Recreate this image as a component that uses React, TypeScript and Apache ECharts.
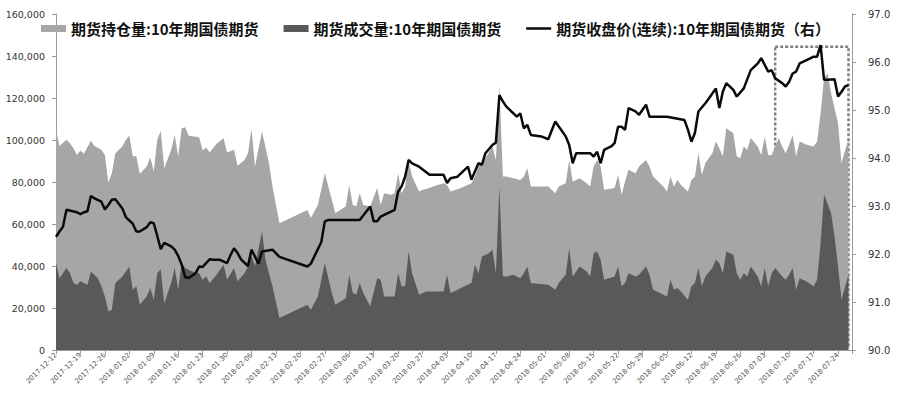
import React, { useEffect, useRef } from "react";
import * as echarts from "echarts";

const BASE_DATE = "2017-12-12";
const LAST_AXIS_DATE = "2018-07-28";

const seriesNames = [
  "期货持仓量:10年期国债期货",
  "期货成交量:10年期国债期货",
  "期货收盘价(连续):10年期国债期货（右）",
];

// 期货持仓量 (lots)
const openInterest: [string, number][] = [
  ["2017-12-12", 104800], ["2017-12-13", 97200], ["2017-12-15", 100100], ["2017-12-16", 98500],
  ["2017-12-17", 96100], ["2017-12-18", 92900], ["2017-12-19", 95000], ["2017-12-20", 93400],
  ["2017-12-22", 99700], ["2017-12-23", 97200], ["2017-12-25", 95300], ["2017-12-26", 92900],
  ["2017-12-27", 79800], ["2017-12-28", 84200], ["2017-12-29", 93700], ["2017-12-31", 96900],
  ["2018-01-01", 100100], ["2018-01-02", 102000], ["2018-01-03", 92100], ["2018-01-04", 92400],
  ["2018-01-05", 83900], ["2018-01-07", 87400], ["2018-01-08", 91800], ["2018-01-09", 85000],
  ["2018-01-10", 100100], ["2018-01-11", 104300], ["2018-01-12", 86600], ["2018-01-14", 95300],
  ["2018-01-15", 102400], ["2018-01-16", 92100], ["2018-01-17", 105600], ["2018-01-18", 106100],
  ["2018-01-19", 102000], ["2018-01-22", 101300], ["2018-01-23", 95000], ["2018-01-24", 96400],
  ["2018-01-25", 94000], ["2018-01-27", 98200], ["2018-01-29", 100800], ["2018-01-30", 94000],
  ["2018-02-01", 95300], ["2018-02-02", 87700], ["2018-02-04", 90500], ["2018-02-05", 93700],
  ["2018-02-06", 105100], ["2018-02-07", 87400], ["2018-02-09", 104000], ["2018-02-11", 89000],
  ["2018-02-12", 77900], ["2018-02-14", 60400], ["2018-02-22", 66700], ["2018-02-23", 62800],
  ["2018-02-25", 69100], ["2018-02-27", 84200], ["2018-03-01", 71500], ["2018-03-02", 65200],
  ["2018-03-05", 68300], ["2018-03-06", 78600], ["2018-03-07", 69100], ["2018-03-08", 68300],
  ["2018-03-09", 74700], ["2018-03-10", 69100], ["2018-03-12", 68300], ["2018-03-14", 77100],
  ["2018-03-15", 69100], ["2018-03-16", 74700], ["2018-03-18", 73900], ["2018-03-19", 74700],
  ["2018-03-20", 84200], ["2018-03-21", 74700], ["2018-03-22", 77900], ["2018-03-23", 89700],
  ["2018-03-24", 82600], ["2018-03-26", 75500], ["2018-03-27", 76300], ["2018-03-29", 77100],
  ["2018-03-30", 77900], ["2018-04-02", 79400], ["2018-04-03", 78600], ["2018-04-04", 75500],
  ["2018-04-07", 77100], ["2018-04-10", 79400], ["2018-04-11", 82600], ["2018-04-12", 87400],
  ["2018-04-14", 91300], ["2018-04-16", 96900], ["2018-04-17", 90500], ["2018-04-18", 126200],
  ["2018-04-19", 82600], ["2018-04-20", 82600], ["2018-04-22", 81800], ["2018-04-24", 81000],
  ["2018-04-25", 82600], ["2018-04-26", 86600], ["2018-04-27", 77900], ["2018-05-02", 77900],
  ["2018-05-04", 74700], ["2018-05-05", 77900], ["2018-05-07", 79400], ["2018-05-08", 90500],
  ["2018-05-09", 80200], ["2018-05-11", 81800], ["2018-05-13", 79400], ["2018-05-14", 77900],
  ["2018-05-15", 87400], ["2018-05-16", 90500], ["2018-05-17", 87400], ["2018-05-18", 76300],
  ["2018-05-21", 77100], ["2018-05-22", 83400], ["2018-05-23", 73900], ["2018-05-24", 80200],
  ["2018-05-25", 85800], ["2018-05-27", 84200], ["2018-05-28", 87400], ["2018-05-30", 90500],
  ["2018-05-31", 87400], ["2018-06-01", 82600], ["2018-06-03", 79400], ["2018-06-04", 77900],
  ["2018-06-05", 75500], ["2018-06-06", 82600], ["2018-06-07", 77900], ["2018-06-08", 81000],
  ["2018-06-09", 78600], ["2018-06-11", 75500], ["2018-06-12", 81000], ["2018-06-13", 82600],
  ["2018-06-14", 93700], ["2018-06-15", 83400], ["2018-06-16", 89000], ["2018-06-18", 93700],
  ["2018-06-19", 99300], ["2018-06-20", 96100], ["2018-06-21", 92100], ["2018-06-22", 105600],
  ["2018-06-24", 103200], ["2018-06-25", 92100], ["2018-06-26", 91300], ["2018-06-27", 96900],
  ["2018-06-28", 95300], ["2018-06-29", 100900], ["2018-07-01", 96900], ["2018-07-02", 92900],
  ["2018-07-03", 101600], ["2018-07-04", 92900], ["2018-07-05", 92900], ["2018-07-07", 100900],
  ["2018-07-08", 96900], ["2018-07-09", 93700], ["2018-07-10", 97700], ["2018-07-11", 102400],
  ["2018-07-12", 92100], ["2018-07-13", 99300], ["2018-07-15", 97700], ["2018-07-17", 96900],
  ["2018-07-18", 99300], ["2018-07-19", 112700], ["2018-07-20", 129400], ["2018-07-21", 131800],
  ["2018-07-22", 122300], ["2018-07-23", 115100], ["2018-07-24", 108000], ["2018-07-25", 89000],
  ["2018-07-26", 95000], ["2018-07-27", 100000],
];

// 期货成交量 (lots)
const volume: [string, number][] = [
  ["2017-12-12", 41400], ["2017-12-13", 34200], ["2017-12-15", 39000], ["2017-12-16", 36600],
  ["2017-12-17", 31900], ["2017-12-18", 31100], ["2017-12-19", 32700], ["2017-12-21", 31100],
  ["2017-12-22", 37400], ["2017-12-24", 34200], ["2017-12-25", 30300], ["2017-12-26", 25500],
  ["2017-12-27", 18400], ["2017-12-28", 19200], ["2017-12-29", 31900], ["2017-12-31", 35000],
  ["2018-01-02", 39800], ["2018-01-03", 28700], ["2018-01-04", 30300], ["2018-01-05", 21600],
  ["2018-01-07", 25500], ["2018-01-08", 29500], ["2018-01-09", 23900], ["2018-01-10", 36600],
  ["2018-01-11", 38500], ["2018-01-12", 22300], ["2018-01-14", 31900], ["2018-01-15", 39000],
  ["2018-01-16", 28700], ["2018-01-17", 41400], ["2018-01-18", 39000], ["2018-01-20", 37400],
  ["2018-01-22", 36600], ["2018-01-23", 33400], ["2018-01-24", 35000], ["2018-01-25", 31900],
  ["2018-01-27", 35800], ["2018-01-29", 40600], ["2018-01-30", 33400], ["2018-02-01", 39000],
  ["2018-02-02", 32700], ["2018-02-04", 36600], ["2018-02-05", 39800], ["2018-02-06", 45000],
  ["2018-02-07", 39800], ["2018-02-09", 56400], ["2018-02-10", 43000], ["2018-02-12", 30300],
  ["2018-02-14", 15200], ["2018-02-22", 21600], ["2018-02-23", 19200], ["2018-02-25", 25500],
  ["2018-02-27", 41400], ["2018-03-01", 27100], ["2018-03-02", 21600], ["2018-03-05", 24700],
  ["2018-03-06", 35800], ["2018-03-07", 27100], ["2018-03-08", 26300], ["2018-03-09", 31900],
  ["2018-03-10", 27100], ["2018-03-12", 20800], ["2018-03-14", 34200], ["2018-03-15", 33400],
  ["2018-03-16", 25500], ["2018-03-19", 25500], ["2018-03-20", 36600], ["2018-03-21", 30300],
  ["2018-03-22", 30300], ["2018-03-23", 46900], ["2018-03-24", 36600], ["2018-03-26", 26300],
  ["2018-03-28", 27900], ["2018-04-02", 27900], ["2018-04-03", 35800], ["2018-04-04", 27100],
  ["2018-04-06", 28700], ["2018-04-08", 30300], ["2018-04-10", 31900], ["2018-04-11", 40600],
  ["2018-04-12", 36600], ["2018-04-13", 44500], ["2018-04-15", 46100], ["2018-04-16", 47700],
  ["2018-04-17", 36600], ["2018-04-18", 77900], ["2018-04-19", 35000], ["2018-04-20", 35000],
  ["2018-04-22", 35800], ["2018-04-24", 34200], ["2018-04-25", 36600], ["2018-04-26", 39800],
  ["2018-04-27", 31900], ["2018-05-02", 31100], ["2018-05-04", 28700], ["2018-05-05", 31900],
  ["2018-05-07", 35800], ["2018-05-08", 48500], ["2018-05-09", 35000], ["2018-05-11", 39800],
  ["2018-05-13", 37400], ["2018-05-14", 35000], ["2018-05-15", 46100], ["2018-05-16", 46900],
  ["2018-05-17", 43000], ["2018-05-18", 33400], ["2018-05-21", 35000], ["2018-05-22", 39800],
  ["2018-05-23", 30300], ["2018-05-24", 31900], ["2018-05-25", 36600], ["2018-05-27", 35000],
  ["2018-05-28", 35800], ["2018-05-30", 39800], ["2018-05-31", 35800], ["2018-06-01", 28700],
  ["2018-06-03", 27100], ["2018-06-04", 26300], ["2018-06-05", 25500], ["2018-06-06", 33400],
  ["2018-06-07", 28700], ["2018-06-08", 29500], ["2018-06-09", 27900], ["2018-06-11", 23900],
  ["2018-06-12", 30300], ["2018-06-13", 31900], ["2018-06-14", 39000], ["2018-06-15", 30300],
  ["2018-06-16", 35000], ["2018-06-18", 39000], ["2018-06-19", 43000], ["2018-06-20", 41400],
  ["2018-06-21", 36600], ["2018-06-22", 46900], ["2018-06-24", 45300], ["2018-06-25", 36600],
  ["2018-06-26", 33400], ["2018-06-27", 36600], ["2018-06-28", 35000], ["2018-06-29", 39800],
  ["2018-07-01", 35000], ["2018-07-02", 30300], ["2018-07-03", 39000], ["2018-07-04", 30300],
  ["2018-07-05", 36600], ["2018-07-06", 39000], ["2018-07-08", 35000], ["2018-07-09", 33400],
  ["2018-07-10", 35800], ["2018-07-11", 39000], ["2018-07-12", 28700], ["2018-07-13", 34200],
  ["2018-07-15", 32600], ["2018-07-17", 30300], ["2018-07-18", 33400], ["2018-07-19", 50900],
  ["2018-07-20", 73900], ["2018-07-22", 65200], ["2018-07-23", 54100], ["2018-07-24", 39800],
  ["2018-07-25", 24000], ["2018-07-26", 30000], ["2018-07-27", 36000],
];

// 期货收盘价(连续)
const closePrice: [string, number][] = [
  ["2017-12-12", 92.36], ["2017-12-13", 92.47], ["2017-12-14", 92.57], ["2017-12-15", 92.92],
  ["2017-12-18", 92.87], ["2017-12-19", 92.83], ["2017-12-20", 92.87], ["2017-12-21", 92.89],
  ["2017-12-22", 93.21], ["2017-12-23", 93.16], ["2017-12-25", 93.09], ["2017-12-26", 92.93],
  ["2017-12-27", 93.02], ["2017-12-28", 93.13], ["2017-12-29", 93.14], ["2017-12-31", 92.95],
  ["2018-01-01", 92.77], ["2018-01-03", 92.63], ["2018-01-04", 92.47], ["2018-01-05", 92.47],
  ["2018-01-07", 92.56], ["2018-01-08", 92.66], ["2018-01-09", 92.64], ["2018-01-10", 92.38],
  ["2018-01-11", 92.10], ["2018-01-12", 92.23], ["2018-01-14", 92.16], ["2018-01-15", 92.09],
  ["2018-01-16", 91.96], ["2018-01-17", 91.78], ["2018-01-18", 91.52], ["2018-01-19", 91.50],
  ["2018-01-21", 91.60], ["2018-01-22", 91.74], ["2018-01-23", 91.73], ["2018-01-24", 91.81],
  ["2018-01-25", 91.89], ["2018-01-26", 91.88], ["2018-01-28", 91.88], ["2018-01-30", 91.81],
  ["2018-01-31", 91.98], ["2018-02-01", 92.12], ["2018-02-02", 92.02], ["2018-02-03", 91.89],
  ["2018-02-05", 91.75], ["2018-02-06", 92.09], ["2018-02-08", 91.80], ["2018-02-09", 92.05],
  ["2018-02-12", 92.09], ["2018-02-14", 91.94], ["2018-02-22", 91.74], ["2018-02-23", 91.80],
  ["2018-02-26", 92.25], ["2018-02-27", 92.68], ["2018-02-28", 92.71], ["2018-03-09", 92.71],
  ["2018-03-12", 92.99], ["2018-03-13", 92.68], ["2018-03-14", 92.68], ["2018-03-15", 92.78],
  ["2018-03-19", 92.92], ["2018-03-20", 93.30], ["2018-03-21", 93.41], ["2018-03-22", 93.61],
  ["2018-03-23", 93.96], ["2018-03-24", 93.89], ["2018-03-26", 93.82], ["2018-03-29", 93.65],
  ["2018-04-02", 93.65], ["2018-04-03", 93.48], ["2018-04-04", 93.58], ["2018-04-06", 93.61],
  ["2018-04-09", 93.82], ["2018-04-10", 93.55], ["2018-04-12", 93.89], ["2018-04-13", 93.86],
  ["2018-04-14", 94.10], ["2018-04-16", 94.27], ["2018-04-17", 94.32], ["2018-04-18", 95.31],
  ["2018-04-19", 95.18], ["2018-04-20", 95.07], ["2018-04-23", 94.86], ["2018-04-24", 94.93],
  ["2018-04-25", 94.62], ["2018-04-26", 94.69], ["2018-04-27", 94.48], ["2018-04-30", 94.45],
  ["2018-05-02", 94.39], ["2018-05-04", 94.76], ["2018-05-07", 94.45], ["2018-05-08", 94.27],
  ["2018-05-09", 93.89], ["2018-05-10", 94.10], ["2018-05-14", 94.10], ["2018-05-15", 94.03],
  ["2018-05-16", 94.13], ["2018-05-17", 93.89], ["2018-05-18", 94.17], ["2018-05-20", 94.24],
  ["2018-05-21", 94.31], ["2018-05-22", 94.65], ["2018-05-23", 94.65], ["2018-05-24", 94.59],
  ["2018-05-25", 95.04], ["2018-05-27", 94.97], ["2018-05-28", 94.90], ["2018-05-30", 95.11],
  ["2018-05-31", 94.86], ["2018-06-05", 94.86], ["2018-06-10", 94.79], ["2018-06-11", 94.59],
  ["2018-06-12", 94.34], ["2018-06-13", 94.52], ["2018-06-14", 94.97], ["2018-06-16", 95.14],
  ["2018-06-17", 95.24], ["2018-06-19", 95.45], ["2018-06-20", 95.04], ["2018-06-21", 95.38],
  ["2018-06-22", 95.56], ["2018-06-24", 95.42], ["2018-06-25", 95.28], ["2018-06-27", 95.45],
  ["2018-06-29", 95.83], ["2018-07-01", 95.97], ["2018-07-02", 96.08], ["2018-07-03", 95.94],
  ["2018-07-04", 95.80], ["2018-07-05", 95.83], ["2018-07-06", 95.66], ["2018-07-08", 95.56],
  ["2018-07-09", 95.49], ["2018-07-10", 95.59], ["2018-07-11", 95.76], ["2018-07-12", 95.80],
  ["2018-07-13", 95.97], ["2018-07-15", 96.04], ["2018-07-17", 96.11], ["2018-07-18", 96.11],
  ["2018-07-19", 96.35], ["2018-07-20", 95.63], ["2018-07-21", 95.63], ["2018-07-23", 95.64],
  ["2018-07-24", 95.28], ["2018-07-25", 95.38], ["2018-07-26", 95.49], ["2018-07-27", 95.52],
];

// dotted highlight box (dates on x, price on right axis)
const highlightFrom = "2018-07-06";
const highlightTo = "2018-07-27";
const highlightTop = 96.32;
const highlightBottom = 90.1;

const DAY = 86400000;
const baseMs = Date.parse(BASE_DATE);
const dayOffset = (s: string) => Math.round((Date.parse(s) - baseMs) / DAY);
const toXY = (arr: [string, number][]) => arr.map(([d, v]) => [dayOffset(d), v]);

export default function App() {
  const ref = useRef<HTMLDivElement>(null);

  useEffect(() => {
    document.body.style.margin = "0";
    if (!ref.current) return;
    const chart = echarts.init(ref.current, undefined, { renderer: "svg" });

    const axisGray = "#9a9a9a";
    const option: any = {
      animation: false,
      backgroundColor: "#ffffff",
      grid: { left: 56, right: 48, top: 14, bottom: 49, containLabel: false },
      legend: {
        left: 36,
        top: 16,
        itemWidth: 25,
        itemHeight: 7,
        itemGap: 25,
        symbolKeepAspect: true,
        textStyle: {
          fontSize: 15,
          fontWeight: "bold",
          color: "#111111",
          fontFamily: "Noto Sans CJK SC",
        },
        data: [
          { name: seriesNames[0], icon: "rect" },
          { name: seriesNames[1], icon: "rect" },
          { name: seriesNames[2], icon: "path://M0,0 L25,0 L25,2.5 L0,2.5 Z" },
        ],
      },
      xAxis: {
        type: "value",
        min: 0,
        max: dayOffset(LAST_AXIS_DATE),
        interval: 7,
        axisLine: { show: true, lineStyle: { color: axisGray, width: 1 } },
        axisTick: { show: true, length: 4, lineStyle: { color: axisGray } },
        splitLine: { show: false },
        axisLabel: {
          rotate: 45,
          fontSize: 7,
          margin: 4,
          color: "#555555",
          fontFamily: "DejaVu Sans",
          formatter: (v: number) =>
            v % 7 === 0 ? new Date(baseMs + v * DAY).toISOString().slice(0, 10) : "",
        },
      },
      yAxis: [
        {
          type: "value",
          min: 0,
          max: 160000,
          interval: 20000,
          axisLine: { show: true, lineStyle: { color: axisGray } },
          axisTick: { show: true, length: 4, lineStyle: { color: axisGray } },
          splitLine: { show: false },
          axisLabel: {
            fontSize: 9.5,
            margin: 11,
            color: "#333333",
            fontFamily: "DejaVu Sans",
            formatter: (v: number) => v.toLocaleString("en-US"),
          },
        },
        {
          type: "value",
          position: "right",
          min: 90,
          max: 97,
          interval: 1,
          axisLine: { show: true, lineStyle: { color: axisGray } },
          axisTick: { show: true, length: 4, lineStyle: { color: axisGray } },
          splitLine: { show: false },
          axisLabel: {
            fontSize: 10,
            margin: 16,
            color: "#333333",
            fontFamily: "DejaVu Sans",
            formatter: (v: number) => v.toFixed(1),
          },
        },
      ],
      series: [
        {
          name: seriesNames[0],
          type: "line",
          yAxisIndex: 0,
          data: toXY(openInterest),
          symbol: "none",
          showSymbol: false,
          lineStyle: { width: 0, color: "#a6a6a6" },
          itemStyle: { color: "#a6a6a6" },
          areaStyle: { color: "#a6a6a6", opacity: 1 },
          z: 1,
        },
        {
          name: seriesNames[1],
          type: "line",
          yAxisIndex: 0,
          data: toXY(volume),
          symbol: "none",
          showSymbol: false,
          lineStyle: { width: 0, color: "#595959" },
          itemStyle: { color: "#595959" },
          areaStyle: { color: "#595959", opacity: 1 },
          z: 2,
        },
        {
          name: seriesNames[2],
          type: "line",
          yAxisIndex: 1,
          data: toXY(closePrice),
          symbol: "none",
          showSymbol: false,
          lineStyle: { width: 2.5, color: "#0a0a0a" },
          itemStyle: { color: "#0a0a0a" },
          z: 3,
          markArea: {
            silent: true,
            itemStyle: {
              color: "rgba(0,0,0,0)",
              borderColor: "#7f7f7f",
              borderWidth: 2.5,
              borderType: [3, 2],
            },
            data: [
              [
                { xAxis: dayOffset(highlightFrom), yAxis: highlightTop },
                { xAxis: dayOffset(highlightTo), yAxis: highlightBottom },
              ],
            ],
          },
        },
      ],
    };

    chart.setOption(option);
    return () => chart.dispose();
  }, []);

  return <div ref={ref} style={{ width: 900, height: 399 }} />;
}
